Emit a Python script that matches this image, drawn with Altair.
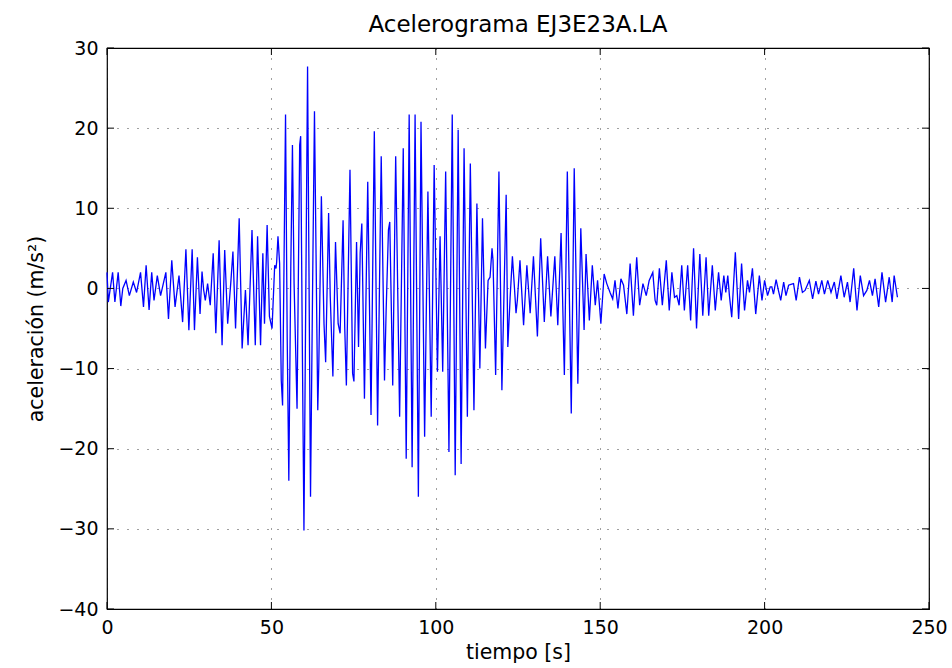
import altair as alt
import pandas as pd

# time [s] and acceleration [m/s^2] (peaks/troughs)
t_s = [
    0.0, 0.4, 1.7, 2.4, 3.4, 4.2, 4.8, 5.8, 6.8, 8.0, 9.0, 10.2, 11.1, 11.9, 12.8, 13.6,
    14.3, 15.3, 16.3, 17.9, 18.7, 19.7, 20.7, 21.9, 23.0, 24.0, 24.9, 25.9, 26.6, 27.5, 28.3,
    28.9, 29.4, 29.9, 30.6, 31.4, 32.3, 33.1, 34.1, 35.0, 35.8, 36.7, 37.7, 38.3, 39.1, 40.2,
    41.1, 42.1, 42.9, 44.1, 45.1, 45.8, 46.7, 47.4, 47.9, 48.7, 49.4,
    50.2, 51.0, 51.4, 51.6, 52.0, 52.5, 53.0, 53.4,
    54.3, 54.8, 55.3, 55.9, 56.4, 56.9, 57.8, 58.6, 58.9, 59.4, 59.9, 61.0, 61.9, 62.5, 63.1,
    64.1, 64.4, 65.2, 66.0, 66.5, 67.4, 67.9, 68.7, 69.5, 70.3, 70.9, 71.8, 72.3, 72.8, 73.9,
    74.7, 75.1, 75.9,
    76.5, 77.0, 77.5, 78.3, 79.3, 80.3, 81.3, 82.3, 83.4, 84.4, 84.9, 85.6, 86.0, 86.9, 87.8,
    89.0, 90.1, 91.0, 91.9, 92.8, 93.7, 94.7, 95.5, 96.6, 97.6, 98.6, 99.5,
    100.5, 101.3, 102.1, 103.0, 104.0, 105.0, 105.9, 106.8, 107.7, 108.6, 109.6, 110.5, 111.6,
    112.5, 113.4, 114.2, 115.1, 115.9, 116.5, 117.1, 117.4, 118.2, 119.2, 120.1, 121.4, 121.9,
    122.6, 123.3, 123.9, 124.4, 124.8, 125.6, 126.7, 127.7, 128.7, 129.7, 130.9, 131.9, 133.0,
    134.0, 135.0, 136.2, 137.1, 138.1, 139.1, 140.0, 141.2, 142.1, 143.2, 144.1, 145.1,
    145.7, 146.7, 147.6, 148.5, 149.2, 150.2, 151.2, 152.0, 153.0, 153.8, 154.5, 155.4, 156.3,
    157.1, 158.1, 159.1, 160.1, 161.1, 162.0, 163.0, 164.0, 164.9, 166.0, 166.7, 167.2, 168.0,
    168.9, 170.1, 171.0, 171.8, 172.6,
    173.3, 174.0, 174.8, 175.6, 176.6, 177.5, 178.4, 179.3, 180.3, 181.2, 182.2, 183.0, 184.1,
    185.0, 186.0, 186.8, 187.6, 188.2, 188.8, 189.3, 190.0, 191.1, 192.1, 193.0, 193.9, 194.8,
    195.4, 196.3, 197.3, 198.4, 199.2, 200.0, 200.9, 201.7,
    202.2, 202.7, 203.5, 204.2, 204.9, 205.8, 206.5, 207.3, 208.0, 208.8, 209.6, 210.6, 211.5,
    212.3, 213.6, 214.6, 215.6, 216.4, 217.4, 218.2, 219.2, 220.2, 221.2, 222.0, 223.2, 224.2,
    225.2, 226.0, 227.1, 228.1, 229.1, 230.1, 231.1, 231.9, 232.8, 233.6, 234.7, 235.7, 236.8,
    237.9, 238.8, 239.4, 240.4,
]
acc = [
    2.0, -1.7, 2.0, -1.7, 2.0, -2.2, 0.0, 1.0, -0.9, 0.8, -0.5, 2.0, -2.3, 2.9, -2.7, 2.0,
    -1.5, 1.6, -0.9, 2.0, -3.8, 3.5, -2.3, 1.6, -4.2, 4.9, -5.2, 4.9, -5.2, 3.9, -3.2,
    2.1, -0.2, -1.5, 0.6, -2.1, 4.4, -5.6, 6.0, -7.1, 4.8, -4.4, 1.0, 4.6, -5.0, 8.75,
    -7.5, -0.2, -7.1, 7.3, -7.1, 6.5, -7.1, 4.4, -4.4, 7.9, -3.5,
    -5.0, 2.9, 2.5, 3.3, 6.5, 3.1, -11.5, -14.6,
    21.7, -6.0, -24.0, 2.7, 17.9, 0.6, -15.0, 17.9, 19.0, -6.9, -30.2, 27.7, -26.0, -1.0, 22.1,
    -15.2, -10.0, 11.5, -4.4, -9.2, 9.4, -1.0, -11.0, 5.8, -4.4, -5.6, 8.5, -4.8, -12.1, 14.8,
    -10.6, -11.6, 5.8,
    -7.3, 4.4, 8.1, -13.75, 13.3, -15.8, 19.6, -17.1, 16.5, -11.5, -2.7, 7.3, 8.3, -12.1, 16.5,
    -16.0, 17.5, -21.25, 21.7, -22.3, 21.7, -26.0, 20.8, -18.5, 12.1, -16.0, 15.4,
    -10.4, 6.5, -10.4, 14.6, -20.4, 21.7, -23.3, 19.8, -21.9, 17.5, -16.0, 15.6, -15.2,
    10.6, -10.0, 8.75, -7.5, 1.0, 1.4, 5.0, 3.5, -10.8, 14.6, -12.7, 11.7, -7.3,
    -1.2, 4.0, 0.2, -3.1, -1.5, 3.5, -4.6, 2.9, -3.1, 4.0, -6.0, 6.25, -4.2,
    4.0, -3.5, 4.0, -4.6, 6.9, -10.8, 14.6, -15.6, 15.0, -11.9, 7.5, -5.2,
    4.3, -4.0, 2.9, -2.1, 1.0, -4.4, 1.8, 0.6, -0.5, -1.3, 1.0, -2.5, 1.2,
    0.4, -3.2, 3.1, -3.4, 3.9, -2.1, 0.6, -0.9, 1.0, 2.0, -1.5, -2.1, 2.5,
    -2.1, 3.5, -2.75, 2.0, -1.1,
    -0.9, -2.1, 2.9, -2.75, 2.9, -4.0, 5.0, -5.0, 4.3, -3.4, 3.9, -3.4, 2.9,
    -2.75, 2.0, -1.5, 1.6, -0.5, 1.6, -0.9, -3.6, 4.5, -3.8, 3.1, -2.75, 1.0,
    -0.5, 2.5, -3.2, 1.6, -1.5, 1.0, -0.9, 0.2,
    0.2, -0.7, 1.1, -0.25, -1.5, 0.8, -0.9, 0.4, 0.5, 0.6, -1.5, 1.4, -0.5,
    -0.25, 1.0, -1.3, 0.9, -0.7, 1.0, -0.7, 1.0, -0.5, 0.8, -1.3, 1.6, -1.1,
    0.8, -1.7, 2.5, -2.75, 1.6, -0.9, -0.25, 1.0, -0.9, 1.2, -2.3, 2.0, -1.7,
    1.4, -1.7, 1.6, -1.1,
]

x_ticks = [0, 50, 100, 150, 200, 250]
y_ticks = [-40, -30, -20, -10, 0, 10, 20, 30]

W, H = 822, 561
FONT = "DejaVu Sans"

df = pd.DataFrame({"t": t_s, "a": acc})
xt = pd.DataFrame({"t": x_ticks})
yt = pd.DataFrame({"a": y_ticks})

xscale = alt.Scale(domain=[0, 250], nice=False, zero=False)
yscale = alt.Scale(domain=[-40, 30], nice=False, zero=False)
xaxis = alt.Axis(values=x_ticks, title="tiempo [s]", titlePadding=5)
yaxis = alt.Axis(values=y_ticks, title="aceleración (m/s²)", titlePadding=11)

line = alt.Chart(df).mark_line(color="#0000FF", strokeWidth=1.3).encode(
    x=alt.X("t:Q", scale=xscale, axis=xaxis),
    y=alt.Y("a:Q", scale=yscale, axis=yaxis),
)

xt_bottom = alt.Chart(xt).mark_rule(color="black", strokeWidth=1).encode(
    x=alt.X("t:Q", scale=xscale, axis=xaxis), y=alt.value(H), y2=alt.value(H - 7))
xt_top = alt.Chart(xt).mark_rule(color="black", strokeWidth=1).encode(
    x=alt.X("t:Q", scale=xscale, axis=xaxis), y=alt.value(0), y2=alt.value(7))
yt_left = alt.Chart(yt).mark_rule(color="black", strokeWidth=1).encode(
    y=alt.Y("a:Q", scale=yscale, axis=yaxis), x=alt.value(0), x2=alt.value(7))
yt_right = alt.Chart(yt).mark_rule(color="black", strokeWidth=1).encode(
    y=alt.Y("a:Q", scale=yscale, axis=yaxis), x=alt.value(W), x2=alt.value(W - 7))

chart = alt.layer(line, xt_bottom, xt_top, yt_left, yt_right).properties(
    width=W, height=H,
    title=alt.TitleParams("Acelerograma EJ3E23A.LA", font=FONT, fontSize=23,
                          fontWeight="normal", color="black", offset=2),
    autosize=alt.AutoSizeParams(type="none"),
    padding={"left": 107, "top": 48, "right": 23, "bottom": 59},
    background="white",
).configure_view(
    stroke="black", strokeWidth=1.2
).configure_axis(
    domain=False, ticks=False, grid=True, gridColor="#000000", gridOpacity=0.75,
    gridDash=[1, 9], gridWidth=1,
    labelFont=FONT, labelFontSize=19, labelColor="black", labelPadding=9,
    titleFont=FONT, titleFontSize=20.5, titleFontWeight="normal", titleColor="black",
    labelFlush=False, labelOverlap=False,
)

chart.save("out.html", embed_options={"renderer": "svg", "actions": False})
